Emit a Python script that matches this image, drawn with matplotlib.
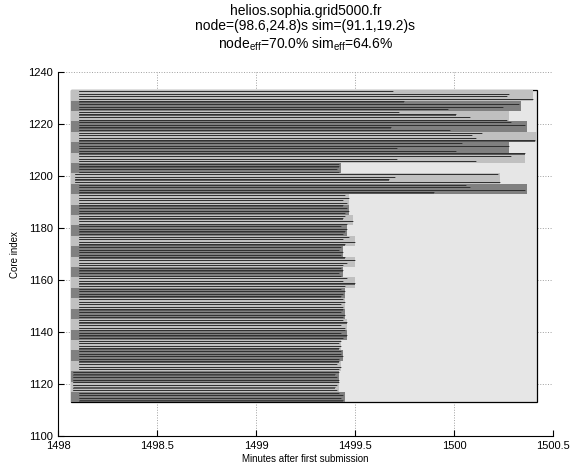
import matplotlib
matplotlib.use("Agg")
import matplotlib.pyplot as plt

plt.rcParams['font.family'] = ['Liberation Sans', 'DejaVu Sans']
plt.rcParams['mathtext.fontset'] = 'custom'
plt.rcParams['mathtext.rm'] = 'Liberation Sans'

# ---- data ----
first_core = 1113
cores_per_node = 4
# node (host) reservation windows, bottom node first (minutes)
node_start = [1498.066] * 30
node_end = [1499.45, 1499.42, 1499.42, 1499.43, 1499.44, 1499.43, 1499.46, 1499.46,
            1499.45, 1499.45, 1499.45, 1499.50, 1499.44, 1499.50, 1499.44, 1499.50,
            1499.46, 1499.49, 1499.47, 1499.47, 1500.37, 1500.23, 1499.43, 1500.36,
            1500.28, 1500.42, 1500.37, 1500.28, 1500.34, 1500.40]
# job start per node (minutes)
job_start = [1498.106, 1498.074, 1498.074, 1498.106, 1498.106, 1498.106, 1498.106, 1498.106,
             1498.106, 1498.106, 1498.106, 1498.106, 1498.106, 1498.106, 1498.106, 1498.106,
             1498.106, 1498.106, 1498.106, 1498.106, 1498.106, 1498.086, 1498.106, 1498.106,
             1498.106, 1498.106, 1498.106, 1498.106, 1498.106, 1498.106]
# per-core end times, bottom core (1113) first
core_end = [
    1499.44, 1499.43, 1499.44, 1499.42,
    1499.41, 1499.40, 1499.41, 1499.42,
    1499.42, 1499.41, 1499.40, 1499.42,
    1499.42, 1499.43, 1499.41, 1499.42,
    1499.42, 1499.44, 1499.43, 1499.43,
    1499.42, 1499.43, 1499.42, 1499.43,
    1499.44, 1499.46, 1499.43, 1499.45,
    1499.45, 1499.43, 1499.46, 1499.44,
    1499.44, 1499.45, 1499.43, 1499.44,
    1499.44, 1499.43, 1499.45, 1499.44,
    1499.43, 1499.44, 1499.45, 1499.43,
    1499.45, 1499.50, 1499.44, 1499.46,
    1499.43, 1499.42, 1499.44, 1499.43,
    1499.44, 1499.46, 1499.50, 1499.45,
    1499.43, 1499.44, 1499.42, 1499.43,
    1499.45, 1499.50, 1499.44, 1499.47,
    1499.44, 1499.45, 1499.46, 1499.43,
    1499.46, 1499.49, 1499.44, 1499.45,
    1499.45, 1499.47, 1499.46, 1499.44,
    1499.46, 1499.44, 1499.47, 1499.45,
    1499.90, 1500.36, 1500.08, 1500.06,
    1500.23, 1499.67, 1499.70, 1500.22,
    1499.42, 1499.41, 1499.42, 1499.42,
    1500.11, 1499.71, 1500.29, 1500.36,
    1500.01, 1499.71, 1500.28, 1500.04,
    1500.41, 1500.11, 1500.09, 1500.14,
    1499.98, 1499.68, 1500.36, 1500.29,
    1500.27, 1500.08, 1500.01, 1499.72,
    1499.97, 1500.25, 1500.33, 1499.75,
    1500.40, 1500.27, 1500.28, 1499.69,
]
window = (1498.066, 1500.42)
x_ticks = [1498, 1498.5, 1499, 1499.5, 1500, 1500.5]
x_labels = ['1498', '1498.5', '1499', '1499.5', '1500', '1500.5']
y_ticks = [1100, 1120, 1140, 1160, 1180, 1200, 1220, 1240]

title = ("helios.sophia.grid5000.fr\n"
         "node=(98.6,24.8)s sim=(91.1,19.2)s\n"
         r"node$_{\mathrm{eff}}$=70.0% sim$_{\mathrm{eff}}$=64.6%")

# ---- figure ----
fig = plt.figure(figsize=(5.8, 4.63), dpi=100)
ax = fig.add_axes([0.1, 0.058, 0.8534, 0.7865])

n_nodes = len(node_end)
n_cores = n_nodes * cores_per_node
y0 = first_core

# overall background window
ax.barh(y0, window[1] - window[0], left=window[0], height=n_cores, align='edge',
        color='#e6e6e6', edgecolor='black', linewidth=0.9, zorder=1)

for n in range(n_nodes):
    col = '#808080' if n % 2 == 0 else '#c0c0c0'
    ax.barh(y0 + n * cores_per_node, node_end[n] - node_start[n], left=node_start[n],
            height=cores_per_node, align='edge', color=col, linewidth=0, zorder=2)

for c in range(n_cores):
    n = c // cores_per_node
    s = job_start[n]
    ax.barh(y0 + c + 0.25, core_end[c] - s, left=s, height=0.45, align='edge',
            color='#5a5a5a', linewidth=0, zorder=3)
    ax.plot([s, core_end[c]], [y0 + c + 0.72, y0 + c + 0.72], color='#1a1a1a',
            linewidth=0.45, zorder=4, solid_capstyle='butt')

ax.set_xlim(1498, 1500.5)
ax.set_ylim(1100, 1240)
ax.set_xticks(x_ticks)
ax.set_xticklabels(x_labels)
ax.set_yticks(y_ticks)
ax.grid(True, linestyle=':', color='#a0a0a0', linewidth=0.7)
ax.set_axisbelow(True)
for sp in ['top', 'right']:
    ax.spines[sp].set_visible(False)
ax.tick_params(direction='in', labelsize=8, length=4)
ax.set_xlabel('Minutes after first submission', fontsize=7, labelpad=2)
ax.set_ylabel('Core index', fontsize=7, labelpad=6)
ax.set_title(title, fontsize=10, linespacing=1.15, pad=17)

fig.savefig('out.png', dpi=100)
